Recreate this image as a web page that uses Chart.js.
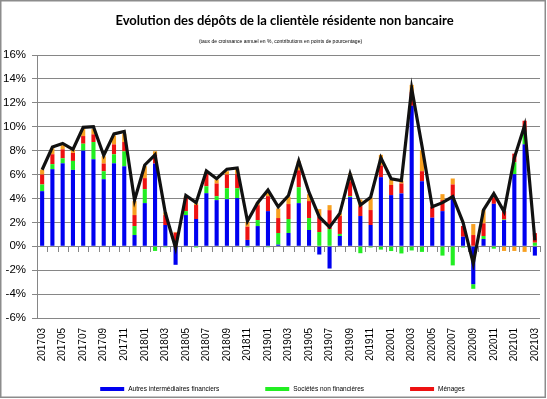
<!DOCTYPE html>
<html><head><meta charset="utf-8">
<script src="https://cdn.jsdelivr.net/npm/chart.js@4"></script>
<style>
html,body{margin:0;padding:0;background:#fff;}
canvas{position:absolute;left:0;top:0;}
</style></head><body>
<canvas id="c" width="547" height="399"></canvas>
<script>
const categories = ["201703","201704","201705","201706","201707","201708","201709","201710","201711","201712",
"201801","201802","201803","201804","201805","201806","201807","201808","201809","201810","201811","201812",
"201901","201902","201903","201904","201905","201906","201907","201908","201909","201910","201911","201912",
"202001","202002","202003","202004","202005","202006","202007","202008","202009","202010","202011","202012",
"202101","202102","202103"];
const autresIF = [4.61,6.45,6.94,6.39,8.0,7.28,5.61,6.94,6.69,0.94,3.61,6.92,1.78,-1.55,2.61,2.28,4.44,3.86,3.94,4.03,0.53,1.69,
2.94,0.14,1.11,3.61,1.36,-0.69,-1.86,0.86,4.11,2.53,1.78,5.78,4.28,4.42,11.75,5.44,2.39,2.94,4.17,0.8,-3.17,0.61,3.55,2.19,
6.03,8.53,-0.78];
const societesNF = [0.56,0.42,0.42,0.75,0.58,1.44,0.67,0.75,1.25,0.75,1.17,-0.39,-0.08,0,0.33,-0.1,0.58,0.33,0.92,0.83,-0.08,0.5,
-0.08,0.97,1.17,1.33,1.0,1.19,1.44,0.17,0.08,-0.58,-0.1,-0.28,-0.4,-0.6,-0.35,-0.47,0,-0.78,-1.6,-0.1,-0.39,0.25,-0.2,0.05,
1.0,1.03,0.3];
const menages = [0.83,0.83,0.75,0.67,0.64,0.64,0.64,0.83,0.78,0.92,0.92,0.75,0.83,1.14,1.1,1.17,1.06,1.06,1.14,1.17,1.11,1.25,
1.25,1.25,1.25,1.42,1.42,1.25,1.58,1.5,1.25,0.83,1.25,0.98,0.85,0.83,1.15,0.84,0.92,0.92,1.0,0.9,0.94,1.06,0.55,0.7,
0.72,0.94,0.8];
const autres = [0.42,0.5,0.35,0.3,0.6,0.45,0.61,0.75,0.69,1.17,1.0,0.28,0.22,0.06,0.14,0.14,0.14,0.33,0.28,0.47,0.39,0.22,
0.5,0.8,0.61,0.75,0.58,0.67,0.42,0.22,0.64,0.56,1.03,0.89,0.45,0.25,0.6,1.75,0,0.5,0.5,0,0.92,1.11,0.05,-0.39,
-0.39,-0.47,0];
const total = [6.4,8.3,8.6,8.1,9.95,10.0,7.6,9.4,9.6,3.85,6.8,7.65,2.8,-0.15,4.25,3.65,6.3,5.65,6.45,6.55,2.1,3.65,
4.7,3.3,4.25,7.15,4.5,2.45,1.6,2.75,6.05,3.45,4.1,7.4,5.65,5.5,13.2,8.4,3.3,3.65,4.15,2.0,-1.45,3.05,4.4,2.9,
7.4,10.1,0.5];
const yTicks = [16,14,12,10,8,6,4,2,0,-2,-4,-6];
const titleText = 'Evolution des dépôts de la clientèle résidente non bancaire';
const subtitleText = '(taux de croissance annuel en %, contributions en points de pourcentage)';
const legendNames = ['Autres intermédiaires financiers','Sociétés non financières','Ménages'];

const GRID = '#868686';

const decor = {
  id:'decor',
  beforeDraw(chart){
    const ctx = chart.ctx;
    ctx.save();
    ctx.fillStyle = '#fff'; ctx.fillRect(0,0,chart.width,chart.height);
    ctx.strokeStyle = '#8c8c8c'; ctx.lineWidth = 1.5;
    ctx.strokeRect(0.75,0.75,chart.width-2.5,chart.height-2.5);
    ctx.restore();
  },
  beforeDatasetsDraw(chart){
    const {ctx, scales:{x,y}, chartArea} = chart;
    const y0 = Math.round(y.getPixelForValue(0));
    const step = x.getPixelForValue(1)-x.getPixelForValue(0);
    ctx.save();
    ctx.strokeStyle = GRID; ctx.lineWidth = 1;
    ctx.beginPath();
    ctx.moveTo(chartArea.left, y0+0.5); ctx.lineTo(chartArea.right, y0+0.5);
    for(let i=0;i<=categories.length;i++){
      const px = Math.round(x.getPixelForValue(0) - step/2 + i*step)+0.5;
      ctx.moveTo(px, y0); ctx.lineTo(px, y0+6);
    }
    ctx.stroke(); ctx.restore();
  },
  afterDraw(chart){
    const {ctx, chartArea} = chart;
    const cx = (chartArea.left+chartArea.right)/2;
    ctx.save();
    ctx.fillStyle = '#000'; ctx.textAlign = 'center'; ctx.textBaseline = 'middle';
    ctx.font = 'bold 13px Lato';
    ctx.fillText(titleText, cx-4, 21);
    ctx.font = '5px "Liberation Sans"';
    ctx.fillText(subtitleText, cx-8, 42);
    ctx.font = '6.5px "Liberation Sans"';
    ctx.textAlign = 'left';
    const ds = chart.data.datasets.filter(d=>legendNames.includes(d.label));
    const box = 24, gap = 4, itemGap = 46;
    const widths = ds.map(d=> box+gap+ctx.measureText(d.label).width);
    const tot = widths.reduce((a,b)=>a+b,0) + itemGap*(ds.length-1);
    let lx = cx - 6 - tot/2;
    const ly = 389;
    ds.forEach((d,i)=>{
      ctx.fillStyle = d.backgroundColor;
      ctx.fillRect(lx, ly-2, box, 4);
      ctx.fillStyle = '#000';
      ctx.fillText(d.label, lx+box+gap, ly);
      lx += widths[i] + itemGap;
    });
    ctx.restore();
  }
};

new Chart(document.getElementById('c'), {
  data: {
    labels: categories,
    datasets: [
      {type:'line', label:'Total', data: total, borderColor:'#111', borderWidth:3.2, pointRadius:0, tension:0, stack:'line', order:0},
      {type:'bar', label:legendNames[0], data: autresIF, backgroundColor:'#0000F0', stack:'s', order:1},
      {type:'bar', label:legendNames[1], data: societesNF, backgroundColor:'#22EE22', stack:'s', order:1},
      {type:'bar', label:legendNames[2], data: menages, backgroundColor:'#EE1111', stack:'s', order:1},
      {type:'bar', label:'Autres', data: autres, backgroundColor:'#F8A020', stack:'s', order:1}
    ]
  },
  options: {
    responsive:false, animation:false,
    layout:{padding:{left:0,right:7,top:55,bottom:31}},
    datasets:{bar:{barPercentage:0.4, categoryPercentage:1}},
    plugins:{ title:{display:false}, subtitle:{display:false}, legend:{display:false}, tooltip:{enabled:false} },
    scales:{
      x:{stacked:true, grid:{display:false, drawTicks:false}, border:{display:false},
        afterFit:(s)=>{ s.height = 50; s.paddingRight = 0; s.paddingLeft = 0; },
        ticks:{autoSkip:false, maxRotation:90, minRotation:90, color:'#000', padding:10,
          font:{family:'Liberation Sans', size:10},
          callback:function(v,i){ return i%2===0 ? categories[i] : ''; }}},
      y:{stacked:true, min:-6, max:16, border:{color:GRID},
        grid:{color:GRID, tickLength:5},
        afterBuildTicks:(s)=>{ s.ticks = yTicks.map(v=>({value:v})); },
        afterFit:(s)=>{ s.width = 37; },
        ticks:{color:'#000', padding:6, font:{family:'Liberation Sans', size:11.5},
          callback:(v)=> v+'%'}}
    }
  },
  plugins:[decor]
});
</script></body></html>
